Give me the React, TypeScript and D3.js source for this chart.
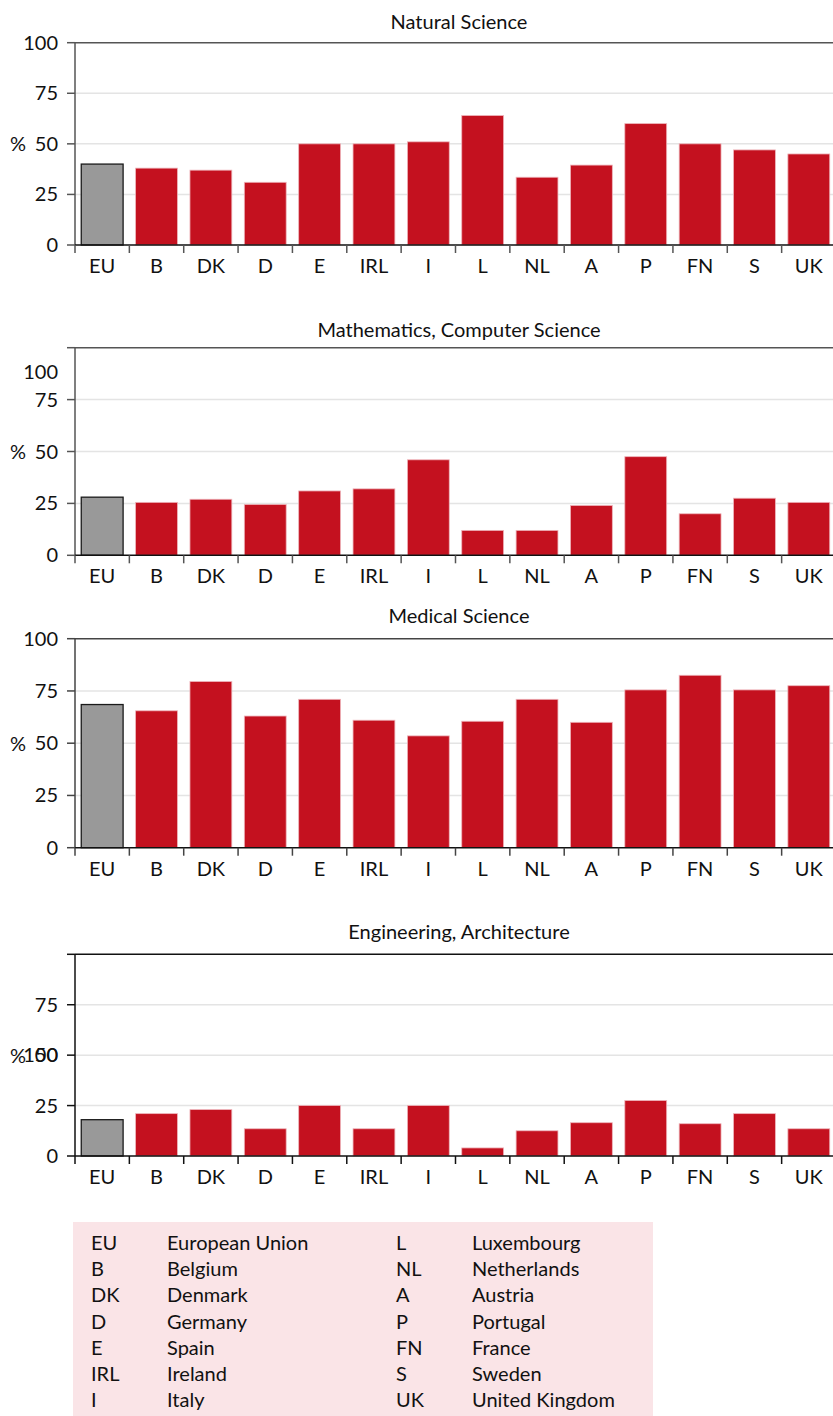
import React, { useEffect, useRef } from "react";
import * as d3 from "d3";

// country codes on the x axis
const countries = ["EU", "B", "DK", "D", "E", "IRL", "I", "L", "NL", "A", "P", "FN", "S", "UK"];

const titles = [
  "Natural Science",
  "Mathematics, Computer Science",
  "Medical Science",
  "Engineering, Architecture",
];

// share of women (%) per field
const naturalScience = [40, 38, 37, 31, 50, 50, 51, 64, 33.5, 39.5, 60, 50, 47, 45];
const mathsComputing = [28, 25.5, 27, 24.5, 31, 32, 46, 12, 12, 24, 47.5, 20, 27.5, 25.5];
const medicalScience = [68.5, 65.5, 79.5, 63, 71, 61, 53.5, 60.5, 71, 60, 75.5, 82.5, 75.5, 77.5];
const engineering = [18, 21, 23, 13.5, 25, 13.5, 25, 4, 12.5, 16.5, 27.5, 16, 21, 13.5];

const yTicks = [0, 25, 50, 75, 100];
// value at which the "100" label was printed in each panel (the original misplaces it)
const topLabelAt = [100, 88.5, 100, 50];

const legendCodesLeft = ["EU", "B", "DK", "D", "E", "IRL", "I"];
const legendNamesLeft = ["European Union", "Belgium", "Denmark", "Germany", "Spain", "Ireland", "Italy"];
const legendCodesRight = ["L", "NL", "A", "P", "FN", "S", "UK"];
const legendNamesRight = ["Luxembourg", "Netherlands", "Austria", "Portugal", "France", "Sweden", "United Kingdom"];

const series = [naturalScience, mathsComputing, medicalScience, engineering];

// layout
const W = 833;
const H = 1416;
const plotLeft = 75;
const plotRight = 836;
const panelTop = [42.7, 347.7, 638.7, 954.3];
const panelBottom = [245, 555.3, 847.7, 1156];
const titleY = [22, 330, 616, 932];
const axisColor = ["#555", "#555", "#444", "#111"];
const FONT = "Lato, 'Open Sans', sans-serif";

export default function App() {
  const svgRef = useRef<SVGSVGElement | null>(null);

  useEffect(() => {
    const svg = d3.select(svgRef.current);
    svg.selectAll("*").remove();

    const x = d3
      .scaleBand<string>()
      .domain(countries)
      .range([plotLeft, plotRight])
      .paddingInner(0.23)
      .paddingOuter(0.115);

    const xTicks = d3.scaleBand<string>().domain(countries).range([plotLeft, plotRight]);

    series.forEach((values, p) => {
      const y = d3.scaleLinear().domain([0, 100]).range([panelBottom[p], panelTop[p]]);
      const g = svg.append("g").attr("font-family", FONT).attr("fill", "#111");

      // title
      g.append("text")
        .attr("x", 459)
        .attr("y", titleY[p])
        .attr("dy", "0.35em")
        .attr("text-anchor", "middle")
        .attr("font-size", 20)
        .text(titles[p]);

      // gridlines
      g.selectAll(".grid")
        .data(yTicks.filter((t) => t > 0 && t < 100))
        .join("line")
        .attr("x1", plotLeft)
        .attr("x2", plotRight)
        .attr("y1", (d) => y(d))
        .attr("y2", (d) => y(d))
        .attr("stroke", "#e4e4e4")
        .attr("stroke-width", 1.5);

      // bars
      g.selectAll(".bar")
        .data(values)
        .join("rect")
        .attr("x", (_, i) => x(countries[i])!)
        .attr("width", x.bandwidth())
        .attr("y", (d) => y(d))
        .attr("height", (d) => y(0) - y(d))
        .attr("fill", (_, i) => (i === 0 ? "#999999" : "#c4111f"))
        .attr("stroke", (_, i) => (i === 0 ? "#1a1a1a" : "#eeb5bb"))
        .attr("stroke-width", (_, i) => (i === 0 ? 1.3 : 0.8));

      // top frame line
      g.append("line")
        .attr("x1", plotLeft)
        .attr("x2", plotRight)
        .attr("y1", y(100))
        .attr("y2", y(100))
        .attr("stroke", axisColor[p])
        .attr("stroke-width", 1.5);

      // y axis
      const yAxis = g.append("g").attr("transform", `translate(${plotLeft},0)`);
      yAxis
        .append("line")
        .attr("y1", y(100))
        .attr("y2", y(0))
        .attr("stroke", axisColor[p])
        .attr("stroke-width", 1.5);
      yAxis
        .selectAll(".tick")
        .data(yTicks)
        .join("line")
        .attr("x1", -8)
        .attr("x2", 0)
        .attr("y1", (d) => y(d))
        .attr("y2", (d) => y(d))
        .attr("stroke", axisColor[p])
        .attr("stroke-width", 1.5);
      yAxis
        .selectAll(".lbl")
        .data(yTicks)
        .join("text")
        .attr("x", -17)
        .attr("y", (d) => y(d === 100 ? topLabelAt[p] : d))
        .attr("dy", "0.35em")
        .attr("text-anchor", "end")
        .attr("font-size", 20)
        .text((d) => d);
      g.append("text")
        .attr("x", 18)
        .attr("y", y(50))
        .attr("dy", "0.38em")
        .attr("text-anchor", "middle")
        .attr("font-size", 20)
        .text("%");

      // x axis
      const xAxis = g.append("g").attr("transform", `translate(0,${y(0)})`);
      xAxis
        .append("line")
        .attr("x1", plotLeft)
        .attr("x2", plotRight)
        .attr("stroke", "#111")
        .attr("stroke-width", 1.5);
      xAxis
        .selectAll(".tick")
        .data(countries)
        .join("line")
        .attr("x1", (d) => xTicks(d)!)
        .attr("x2", (d) => xTicks(d)!)
        .attr("y1", 0)
        .attr("y2", 8)
        .attr("stroke", axisColor[p])
        .attr("stroke-width", 1.5);
      xAxis
        .selectAll(".lbl")
        .data(countries)
        .join("text")
        .attr("x", (d) => x(d)! + x.bandwidth() / 2)
        .attr("y", 21)
        .attr("dy", "0.35em")
        .attr("text-anchor", "middle")
        .attr("font-size", 20)
        .text((d) => d);
    });

    // legend
    const lg = svg.append("g").attr("font-family", FONT).attr("font-size", 20).attr("fill", "#111");
    lg.append("rect").attr("x", 73).attr("y", 1222).attr("width", 580).attr("height", 200).attr("fill", "#fae4e7");
    const rowY = d3.scaleLinear().domain([0, 6]).range([1243, 1400]);
    const cols: [string[], number][] = [
      [legendCodesLeft, 91],
      [legendNamesLeft, 167],
      [legendCodesRight, 396],
      [legendNamesRight, 472],
    ];
    cols.forEach(([items, cx]) => {
      lg.selectAll(null)
        .data(items)
        .join("text")
        .attr("x", cx)
        .attr("y", (_, i) => rowY(i))
        .attr("dy", "0.35em")
        .text((d) => d);
    });
  }, []);

  return (
    <svg
      ref={svgRef}
      width={W}
      height={H}
      style={{ position: "absolute", left: 0, top: 0, background: "#fff" }}
    />
  );
}
